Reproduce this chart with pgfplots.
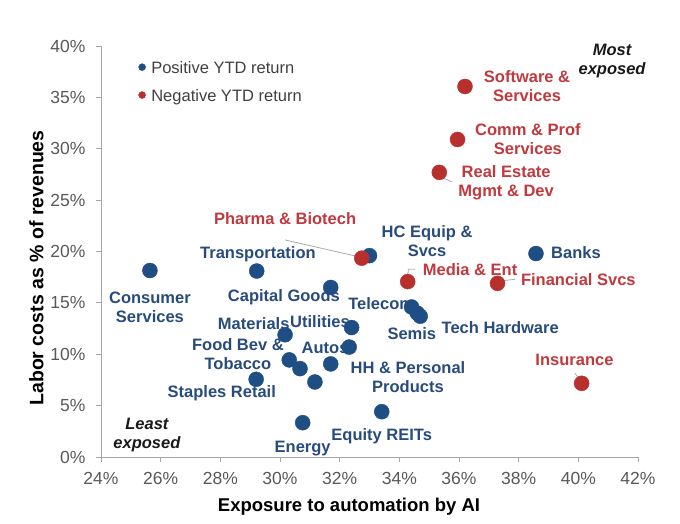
\documentclass[border=0pt]{standalone}
\usepackage{fontspec}
\setmainfont{Liberation Sans}
\usepackage{pgfplots}
\pgfplotsset{compat=1.18}
\definecolor{ptblue}{RGB}{31,78,133}
\definecolor{ptred}{RGB}{183,48,45}
\definecolor{lblblue}{RGB}{40,75,125}
\definecolor{lblred}{RGB}{192,57,62}
\definecolor{tickgray}{RGB}{89,89,89}
\definecolor{leggray}{RGB}{64,64,64}
\definecolor{axgray}{RGB}{166,166,166}
\definecolor{leadgray}{RGB}{170,170,170}
\newcommand\lbf{\fontsize{16.5bp}{19bp}\selectfont\bfseries}
\begin{document}
\begin{tikzpicture}[x=1bp,y=1bp]
\path[use as bounding box] (-101,-67) rectangle (579,457);
\begin{axis}[
  at={(0,0)}, anchor=south west, scale only axis,
  width=537bp, height=411bp,
  xmin=24, xmax=42, ymin=0, ymax=40,
  xtick={24,26,...,42}, ytick={0,5,...,40},
  axis lines*=left,
  axis line style={axgray, line width=0.8bp},
  tick style={axgray, line width=0.8bp},
  tick align=outside, major tick length=5bp,
  xticklabel={\pgfmathprintnumber{\tick}\%},
  yticklabel={\pgfmathprintnumber{\tick}\%},
  ticklabel style={font=\fontsize{17.5bp}{20bp}\selectfont, text=tickgray},
  xticklabel style={yshift=-7bp},
  yticklabel style={xshift=-7bp},
  /pgf/number format/assume math mode=true,
  clip=false,
  xlabel={Exposure to automation by AI},
  ylabel={Labor costs as \% of revenues},
  xlabel style={at={(axis description cs:0.4618,-0.1205)}, anchor=center, font=\fontsize{18.5bp}{20bp}\selectfont\bfseries},
  ylabel style={at={(axis description cs:-0.1201,0.4599)}, anchor=center, font=\fontsize{19.5bp}{20bp}\selectfont\bfseries},
  legend style={at={(0.0693,0.9630)}, anchor=north west, draw=none, fill=none,
    inner sep=0pt, column sep=5.5bp, row sep=12.4bp,
    nodes={inner sep=0pt, text height=12bp, text depth=3.5bp},
    font=\fontsize{16.5bp}{18bp}\selectfont, text=leggray},
  legend cell align=left,
]
% labels and leaders (drawn beneath the points)
\draw[leadgray, line width=0.8bp] (axis cs:30.17,21.12) -- (axis cs:32.62,19.5);
\draw[leadgray, line width=0.8bp] (axis cs:35.36,27.28) -- (axis cs:35.76,26.79);
\draw[leadgray, line width=0.8bp] (axis cs:34.28,17.07) -- (axis cs:34.30,18.27) -- (axis cs:34.52,18.27);
\draw[leadgray, line width=0.8bp] (axis cs:37.29,17.1) -- (axis cs:37.89,17.3);
\draw[leadgray, line width=0.8bp] (axis cs:39.89,8.15) -- (axis cs:40.11,7.17);

\begin{scope}[every node/.style={font=\lbf, text=lblblue, align=center, inner sep=0pt, anchor=center}]
\node at (axis cs:25.64,14.6) {Consumer\\Services};
\node at (axis cs:29.26,19.76) {Transportation};
\node at (axis cs:30.13,15.5) {Capital Goods};
\node at (axis cs:29.12,12.94) {Materials};
\node at (axis cs:31.34,13.17) {Utilities};
\node at (axis cs:28.59,9.98) {Food Bev \&\\Tobacco};
\node at (axis cs:31.51,10.61) {Autos};
\node at (axis cs:28.05,6.2) {Staples Retail};
\node at (axis cs:30.76,0.78) {Energy};
\node at (axis cs:33.41,1.98) {Equity REITs};
\node at (axis cs:34.29,7.74) {HH \& Personal\\Products};
\node at (axis cs:33.39,14.89) {Telecom};
\node at (axis cs:34.42,12.04) {Semis};
\node at (axis cs:37.38,12.58) {Tech Hardware};
\node at (axis cs:34.93,21.02) {HC Equip \&\\Svcs};
\node at (axis cs:39.92,19.88) {Banks};
\end{scope}
\begin{scope}[every node/.style={font=\lbf, text=lblred, align=center, inner sep=0pt, anchor=center}]
\node at (axis cs:36.37,18.27) {Media \& Ent};
\node at (axis cs:40.0,17.29) {Financial Svcs};
\node at (axis cs:38.28,36.11) {Software \&\\Services};
\node at (axis cs:38.31,30.9) {Comm \& Prof\\Services};
\node at (axis cs:37.58,26.72) {Real Estate\\Mgmt \& Dev};
\node at (axis cs:30.17,23.23) {Pharma \& Biotech};
\node at (axis cs:39.87,9.44) {Insurance};
\end{scope}
\begin{scope}[every node/.style={font=\lbf\itshape, text=black!90, align=center, inner sep=0pt, anchor=center}]
\node at (axis cs:41.13,38.5) {Most\\exposed};
\node at (axis cs:25.54,2.14) {Least\\exposed};
\end{scope}

\addplot[only marks, mark=*, mark size=7.5bp, mark options={fill=ptblue, draw=ptblue},
  legend image code/.code={\fill[ptblue] (3.5bp,2bp) circle (3.5bp);}]
  coordinates {
  (25.64,18.15) (29.22,18.1) (31.70,16.5) (33.00,19.6) (30.17,11.9)
  (32.40,12.6) (32.32,10.7) (30.31,9.45) (30.67,8.6) (31.70,9.06)
  (31.17,7.3) (29.20,7.56) (30.76,3.34) (33.41,4.41) (34.41,14.6)
  (34.60,14.0) (34.70,13.7) (38.58,19.8)
  };
\addlegendentry{Positive YTD return}
\addplot[only marks, mark=*, mark size=7.5bp, mark options={fill=ptred, draw=ptred},
  legend image code/.code={\fill[ptred] (3.5bp,2bp) circle (3.5bp);}]
  coordinates {
  (36.20,36.06) (35.95,30.9) (35.34,27.7) (32.74,19.35) (34.28,17.07)
  (37.29,16.9) (40.11,7.17)
  };
\addlegendentry{Negative YTD return}
\end{axis}
\end{tikzpicture}
\end{document}
